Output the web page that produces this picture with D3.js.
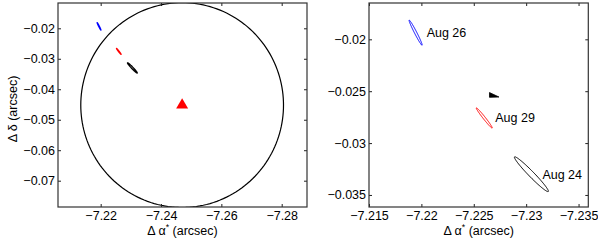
<!DOCTYPE html>
<html><head><meta charset="utf-8">
<script src="https://cdn.jsdelivr.net/npm/d3@7"></script>
<style>
html,body{margin:0;padding:0;background:#fff;}
svg{display:block;font-family:"Liberation Sans",Arial,Helvetica,sans-serif;}
</style></head>
<body><svg id="c" width="598" height="242"></svg>
<script>
// ---- data ----
const epochs      = ["Aug 24", "Aug 26", "Aug 29"];
const centerRA    = [-7.23050, -7.21945, -7.22600];   // arcsec
const centerDec   = [-0.03300, -0.01936, -0.02758];   // arcsec
const semiMajor   = [0.00232, 0.00136, 0.00123];
const semiMinor   = [0.00026, 0.00011, 0.00011];
const angleDeg    = [46, 63, 52];
// reference position (red triangle) and its circle
const refRA = -7.2470, refDec = -0.0452, refRadius = 0.0336;
// small black marker (polygon in data units)
const markRA  = [-7.22650, -7.22650, -7.22740];
const markDec = [-0.02513, -0.02559, -0.02556];
// ticks
const leftXTicks  = [-7.22, -7.24, -7.26, -7.28];
const leftYTicks  = [-0.02, -0.03, -0.04, -0.05, -0.06, -0.07];
const rightXTicks = [-7.215, -7.22, -7.225, -7.23, -7.235];
const rightYTicks = [-0.02, -0.025, -0.03, -0.035];
const xLabelText = "Δ α";
const yLabelText = "Δ δ (arcsec)";

// ---- styles ----
const colorOf = {"Aug 24": "#000000", "Aug 26": "#0000ff", "Aug 29": "#ff0000"};
const fs = 12.5;

const svg = d3.select("#c");
const fmt = d3.format("~g");

function panel(cfg) {
  const x = d3.scaleLinear().domain(cfg.xd).range(cfg.xr);
  const y = d3.scaleLinear().domain(cfg.yd).range(cfg.yr);
  const g = svg.append("g");
  const clipId = "clip" + cfg.id;
  svg.append("clipPath").attr("id", clipId).append("rect")
    .attr("x", cfg.xr[0]).attr("y", cfg.yr[1])
    .attr("width", cfg.xr[1] - cfg.xr[0]).attr("height", cfg.yr[0] - cfg.yr[1]);
  const plot = g.append("g").attr("clip-path", `url(#${clipId})`);

  const mk = (axis, ticks, labels) => axis.tickValues(ticks).tickSizeInner(-3).tickSizeOuter(0)
      .tickPadding(3).tickFormat(labels ? fmt : "");
  g.append("g").attr("transform", `translate(0,${cfg.yr[0]})`)
    .call(mk(d3.axisBottom(x), cfg.xt, true).tickPadding(4));
  g.append("g").attr("transform", `translate(0,${cfg.yr[1]})`).call(mk(d3.axisTop(x), cfg.xt, false));
  g.append("g").attr("transform", `translate(${cfg.xr[0]},0)`).call(mk(d3.axisLeft(y), cfg.yt, true));
  g.append("g").attr("transform", `translate(${cfg.xr[1]},0)`).call(mk(d3.axisRight(y), cfg.yt, false));
  g.selectAll(".domain").remove();
  g.selectAll(".tick line").attr("stroke", "#222").attr("stroke-width", 1);
  g.selectAll(".tick text").attr("font-size", fs).attr("fill", "#000")
    .style("font-family", '"Liberation Sans",Arial,sans-serif');
  g.append("rect").attr("x", cfg.xr[0]).attr("y", cfg.yr[1])
    .attr("width", cfg.xr[1] - cfg.xr[0]).attr("height", cfg.yr[0] - cfg.yr[1])
    .attr("fill", "none").attr("stroke", "#333").attr("stroke-width", 1.2);

  const xl = g.append("text").attr("x", (cfg.xr[0] + cfg.xr[1]) / 2).attr("y", 235)
    .attr("text-anchor", "middle").attr("font-size", fs);
  xl.append("tspan").text(xLabelText);
  xl.append("tspan").attr("font-size", fs * 0.7).attr("dy", -5).text("*");
  xl.append("tspan").attr("dy", 5).text(" (arcsec)");
  return {x, y, plot};
}

function ellipsePath(x, y, cx, cy, a, b, ang) {
  const th = ang * Math.PI / 180, pts = [];
  for (let i = 0; i < 120; i++) {
    const t = i / 120 * 2 * Math.PI;
    pts.push([cx + a * Math.cos(th) * Math.cos(t) - b * Math.sin(th) * Math.sin(t),
              cy + a * Math.sin(th) * Math.cos(t) + b * Math.cos(th) * Math.sin(t)]);
  }
  return d3.line().x(d => x(d[0])).y(d => y(d[1])).curve(d3.curveLinearClosed)(pts);
}

// ---- left panel ----
const L = panel({id: "L", xd: [-7.20585, -7.28839], xr: [58, 307], yd: [-0.07863, -0.0117], yr: [207, 3],
  xt: leftXTicks, yt: leftYTicks});
{
  const pts = d3.range(0, 361, 2).map(t => [refRA + refRadius * Math.cos(t * Math.PI / 180),
                                             refDec + refRadius * Math.sin(t * Math.PI / 180)]);
  L.plot.append("path").attr("d", d3.line().x(d => L.x(d[0])).y(d => L.y(d[1]))(pts))
    .attr("fill", "none").attr("stroke", "#000").attr("stroke-width", 1.2);
  epochs.forEach((e, i) => {
    L.plot.append("path").attr("d", ellipsePath(L.x, L.y, centerRA[i], centerDec[i], semiMajor[i], semiMinor[i], angleDeg[i]))
      .attr("fill", "none").attr("stroke", colorOf[e]).attr("stroke-width", 1.3);
  });
  L.plot.append("path").attr("d", d3.symbol(d3.symbolTriangle, 62)())
    .attr("transform", `translate(${L.x(refRA)},${L.y(refDec)})`).attr("fill", "#ff0000");
}
svg.append("text").attr("transform", "translate(17,109) rotate(-90)").attr("text-anchor", "middle")
  .attr("font-size", fs).text(yLabelText);

// ---- right panel ----
const R = panel({id: "R", xd: [-7.215, -7.23593], xr: [369, 588.3], yd: [-0.03616, -0.0165], yr: [207, 3],
  xt: rightXTicks, yt: rightYTicks});
epochs.forEach((e, i) => {
  R.plot.append("path").attr("d", ellipsePath(R.x, R.y, centerRA[i], centerDec[i], semiMajor[i], semiMinor[i], angleDeg[i]))
    .attr("fill", "none").attr("stroke", colorOf[e]).attr("stroke-width", 1);
  R.plot.append("text").attr("x", R.x(centerRA[i]) + 11)
    .attr("y", R.y(centerDec[i])).attr("dy", "0.35em").attr("font-size", fs).text(e);
});
R.plot.append("path")
  .attr("d", d3.line().x(d => R.x(d[0])).y(d => R.y(d[1])).curve(d3.curveLinearClosed)(markRA.map((v, i) => [v, markDec[i]])))
  .attr("fill", "#000").attr("stroke", "#000").attr("stroke-width", 0.8);
</script></body></html>
